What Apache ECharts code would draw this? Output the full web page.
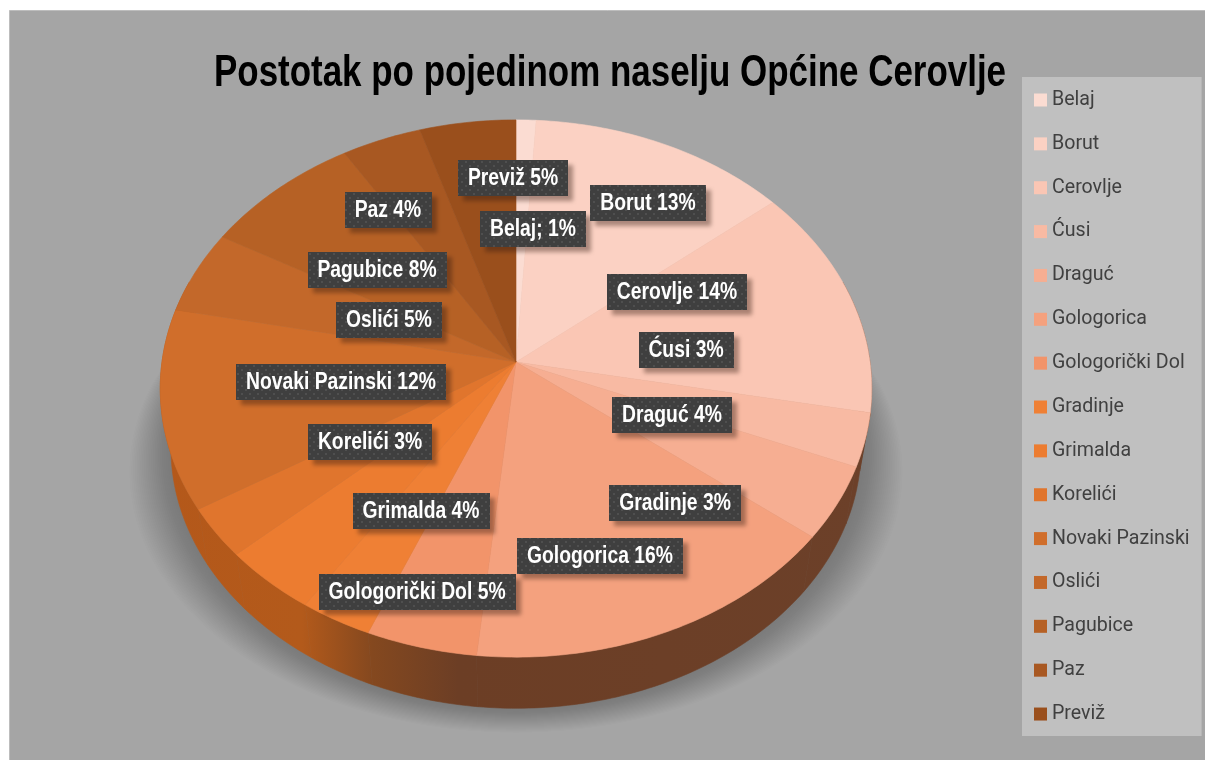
<!DOCTYPE html>
<html>
<head>
<meta charset="utf-8">
<style>html,body{margin:0;padding:0;background:#fff}#c{width:1205px;height:760px}</style>
<script src="https://cdn.jsdelivr.net/npm/echarts@6/dist/echarts.min.js"></script>
</head>
<body>
<div id="c"></div>
<script>
const categories = ['Belaj','Borut','Cerovlje','Ćusi','Draguć','Gologorica','Gologorički Dol','Gradinje','Grimalda','Korelići','Novaki Pazinski','Oslići','Pagubice','Paz','Previž'];
const percents = [1,13,14,3.2,4.4,16,4.6,3,4,3,12,5,8,4,4.8];
const colors = ['#fbdcd2','#fbd1c3','#fac6b4','#f8baa3','#f6ae92','#f4a17e','#f2946a','#ef8035','#ec7c30','#e0752d','#d06e2b','#c3682a','#b66125','#a85822','#9a4f1c'];
const labelCentres = [[533,229],[648,203],[677,292],[686,350],[672,415],[600,556],[417,592],[675,503],[421,511],[370,442],[341,382],[389,320],[377,270],[388,210],[513,178]];
const titleText = 'Postotak po pojedinom naselju Općine Cerovlje';

const FONT = '"Liberation Sans",Arial,sans-serif';
const LABEL_FONT = 'bold 23px ' + FONT;
const LABEL_SQUEEZE = 0.84;
const CX = 516, CY = 362, A = 354, B = 266, K = 0.0987, DROP = 60, SHRINK = 0.97;
const total = percents.reduce((a, b) => a + b, 0);

function project(theta, r, bottom) {
  const u = Math.sin(theta) * r, v = -Math.cos(theta) * r, d = 1 - K * v;
  const s = bottom ? SHRINK : 1;
  return [CX + s * A * u / d, CY + s * B * v / d + (bottom ? DROP : 0)];
}
function arc(a0, a1, bottom) {
  const pts = [], n = Math.max(2, Math.ceil((a1 - a0) / 0.015));
  for (let i = 0; i <= n; i++) pts.push(project(a0 + (a1 - a0) * i / n, 1, bottom));
  return pts;
}
const wallFill = {
  type: 'linear', global: true, x: 160, y: 0, x2: 870, y2: 0,
  colorStops: [
    {offset: 0, color: '#b4581a'}, {offset: 0.2, color: '#b35a1b'},
    {offset: 0.3, color: '#84481f'}, {offset: 0.42, color: '#6c3e25'}, {offset: 1, color: '#6c4029'}
  ]
};
// dotted texture of the data-label boxes
const tile = document.createElement('canvas');
tile.width = 8; tile.height = 8;
(function () {
  const c = tile.getContext('2d');
  c.fillStyle = '#3f3f3f'; c.fillRect(0, 0, 8, 8);
  c.fillStyle = '#4f4f4f'; c.fillRect(1, 1, 2, 2); c.fillRect(5, 5, 2, 2);
})();
const measure = document.createElement('canvas').getContext('2d');
measure.font = LABEL_FONT;

function sliceSeries(name, i) {
  const before = percents.slice(0, i).reduce((a, b) => a + b, 0);
  return {
    type: 'custom', name, coordinateSystem: 'none', silent: true, animation: false,
    itemStyle: {color: colors[i]},
    data: [[percents[i]]],
    renderItem(params, api) {
      const a0 = before / total * 2 * Math.PI;
      const a1 = (before + api.value(0)) / total * 2 * Math.PI;
      const top = arc(a0, a1, false);
      const kids = [
        {type: 'polygon', z2: 10, shape: {points: [[CX, CY]].concat(top)},
         style: {fill: colors[i], stroke: colors[i], lineWidth: 0.6}}
      ];
      const front = [Math.max(a0, Math.PI * 0.4), Math.min(a1, Math.PI * 1.6)];
      if (front[1] > front[0]) {
        kids.push({type: 'polygon', z2: 5,
          shape: {points: arc(front[0], front[1], false).concat(arc(front[0], front[1], true).reverse())},
          style: {fill: wallFill, stroke: wallFill, lineWidth: 0.6}});
      }
      const text = categories[i] + (i === 0 ? '; ' : ' ') + Math.round(api.value(0)) + '%';
      const w = Math.round(measure.measureText(text).width * LABEL_SQUEEZE) + 20, h = 36;
      const c = labelCentres[i];
      kids.push({type: 'rect', z2: 30, shape: {x: Math.round(c[0] - w / 2), y: c[1] - h / 2, width: w, height: h},
        style: {fill: {image: tile, repeat: 'repeat'}, shadowColor: 'rgba(50,25,15,0.4)', shadowBlur: 4, shadowOffsetX: 5, shadowOffsetY: 5}});
      kids.push({type: 'text', z2: 31, x: c[0], y: c[1] + 1, scaleX: LABEL_SQUEEZE,
        style: {text, font: LABEL_FONT, fill: '#fff', align: 'center', verticalAlign: 'middle'}});
      return {type: 'group', children: kids};
    }
  };
}
// soft cast shadow: stacked translucent outlines growing away from the disc
const shadowSeries = {
  type: 'custom', coordinateSystem: 'none', silent: true, animation: false,
  data: [[0]],
  renderItem() {
    const r = project(Math.PI * 0.5, 1, false), l = project(Math.PI * 1.5, 1, false);
    const base = arc(Math.PI * 0.42, Math.PI * 1.58, true);
    const layers = [];
    for (let k = 0; k < 24; k++) {
      const grow = 1 + k * 0.0052, dy = k * 1.05;
      const lo = base.map(p => [CX + (p[0] - CX) * grow, p[1] + dy]);
      layers.push({type: 'polygon', z2: 0, shape: {points: [[r[0] - 4, r[1]]].concat(lo, [[l[0] + 4, l[1]]])},
        style: {fill: 'rgba(55,55,60,0.017)'}});
    }
    return {type: 'group', children: layers};
  }
};
const chart = echarts.init(document.getElementById('c'), null, {renderer: 'canvas'});
chart.setOption({
  animation: false,
  backgroundColor: '#fff',
  graphic: [
    {type: 'rect', z: -10, silent: true, shape: {x: 9.5, y: 10.5, width: 1197, height: 752},
     style: {fill: '#a5a5a5', stroke: '#bdbdbd', lineWidth: 1}},
    {type: 'text', z: 40, silent: true, x: 214, y: 74, scaleX: 0.794,
     style: {text: titleText, font: 'bold 44px ' + FONT, fill: '#000', align: 'left', verticalAlign: 'middle'}}
  ],
  legend: {
    orient: 'vertical', left: 1022, top: 77, data: categories, selectedMode: false,
    backgroundColor: '#c0c0c0', padding: [12, 12, 11, 12], icon: 'rect', itemWidth: 13, itemHeight: 13,
    itemGap: 21.86,
    textStyle: {fontFamily: 'Roboto', fontSize: 19.6, lineHeight: 22, color: '#404040', padding: [0, 0, 0, 0]}
  },
  series: [shadowSeries].concat(categories.map(sliceSeries))
});
</script>
</body>
</html>
